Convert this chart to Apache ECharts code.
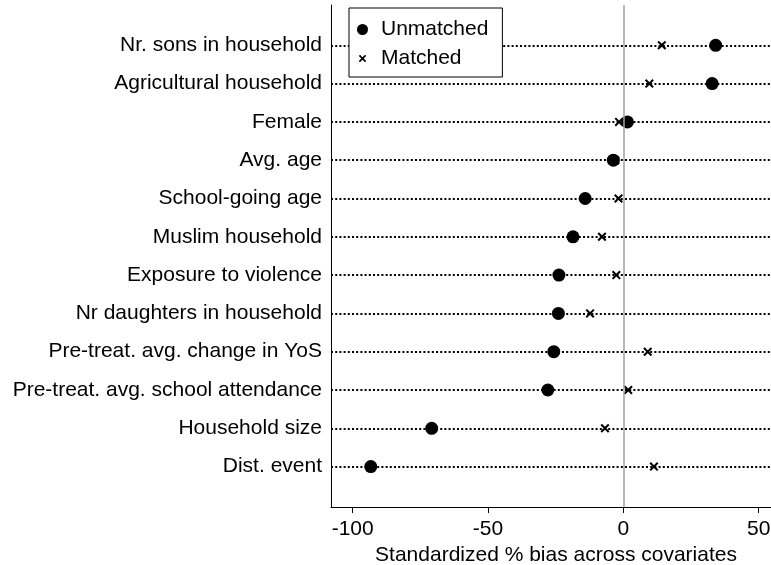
<!DOCTYPE html>
<html>
<head>
<meta charset="utf-8">
<script src="https://cdn.jsdelivr.net/npm/echarts@6/dist/echarts.min.js"></script>
<style>
  html, body { margin: 0; padding: 0; background: #fff; }
  #chart { width: 771px; height: 565px; }
</style>
</head>
<body>
<div id="chart"></div>
<script>
// Covariates, top to bottom
const covariates = [
  'Nr. sons in household',
  'Agricultural household',
  'Female',
  'Avg. age',
  'School-going age',
  'Muslim household',
  'Exposure to violence',
  'Nr daughters in household',
  'Pre-treat. avg. change in YoS',
  'Pre-treat. avg. school attendance',
  'Household size',
  'Dist. event'
];
// Standardized % bias before and after matching
const unmatched = [34.1, 32.8, 1.5, -3.7, -14.1, -18.6, -23.8, -24.0, -25.7, -27.9, -70.8, -93.3];
const matched   = [14.2, 9.6, -1.6, -3.0, -1.8, -7.9, -2.6, -12.3, 9.0, 1.8, -6.8, 11.3];
const xTicks = [-100, -50, 0, 50];
const xTitle = 'Standardized % bias across covariates';

const rows = covariates.map((_, i) => i + 1);
const FONT = '"Liberation Sans", Arial, sans-serif';

// filled "x" glyph (two crossing bars)
const crossBars = 'M0,1.6L1.6,0L10,8.4L8.4,10Z M8.4,0L10,1.6L1.6,10L0,8.4Z';
const crossSymbol = 'path://' + crossBars;
const crossLegendIcon = 'path://M-2.5,-2.5 M12.5,12.5 ' + crossBars;

const chart = echarts.init(document.getElementById('chart'), null, { renderer: 'canvas' });

chart.setOption({
  animation: false,
  backgroundColor: '#fff',
  textStyle: { fontFamily: FONT },
  grid: { left: 331, right: 0, top: 5, bottom: 58, outerBoundsMode: 'none', containLabel: false },
  legend: {
    orient: 'vertical',
    left: 349,
    top: 8,
    padding: [11, 14, 8, 8],
    itemGap: 8,
    itemWidth: 11,
    itemHeight: 11,
    borderColor: '#000',
    borderWidth: 1,
    backgroundColor: '#fff',
    z: 10,
    textStyle: { fontFamily: FONT, fontSize: 21, color: '#000', lineHeight: 21, padding: [0, 0, 0, 8] },
    data: [
      { name: 'Unmatched', icon: 'circle' },
      { name: 'Matched', icon: crossLegendIcon }
    ]
  },
  xAxis: {
    type: 'value',
    min: -108,
    max: 54.54,
    splitLine: { show: false },
    axisLine: { show: true, onZero: false, lineStyle: { color: '#000', width: 1 } },
    axisTick: { show: true, length: 6, customValues: xTicks, lineStyle: { color: '#000', width: 1 } },
    axisLabel: { customValues: xTicks, fontSize: 21, color: '#000', fontFamily: FONT, margin: 12 },
    name: xTitle,
    nameLocation: 'middle',
    nameGap: 31,
    nameTextStyle: { fontSize: 21, color: '#000', fontFamily: FONT, padding: [0, 0, 0, 10] }
  },
  yAxis: {
    type: 'value',
    inverse: true,
    min: -0.052,
    max: 13.055,
    splitLine: { show: false },
    axisLine: { show: true, onZero: false, lineStyle: { color: '#000', width: 1 } },
    axisTick: { show: false },
    axisLabel: {
      customValues: rows,
      formatter: v => covariates[Math.round(v) - 1] || '',
      fontSize: 21,
      color: '#000',
      fontFamily: FONT,
      margin: 9
    }
  },
  series: [
    {
      // dotted row guides and the zero reference line
      name: 'guides',
      type: 'scatter',
      data: [],
      z: 1,
      silent: true,
      markLine: {
        silent: true,
        symbol: ['none', 'none'],
        label: { show: false },
        emphasis: { disabled: true },
        data: [
          ...rows.map(r => ({ yAxis: r, lineStyle: { color: '#000', width: 2, type: [2, 2.2], opacity: 1 } })),
          { xAxis: 0, lineStyle: { color: '#a0a0a0', width: 1.5, type: 'solid', opacity: 1 } }
        ]
      }
    },
    {
      name: 'Matched',
      type: 'scatter',
      symbol: crossSymbol,
      symbolSize: 9,
      z: 3,
      itemStyle: { color: '#000', opacity: 1 },
      data: matched.map((v, i) => [v, rows[i]])
    },
    {
      name: 'Unmatched',
      type: 'scatter',
      symbol: 'circle',
      symbolSize: 13,
      z: 4,
      itemStyle: { color: '#000', opacity: 1 },
      data: unmatched.map((v, i) => [v, rows[i]])
    }
  ]
});
</script>
</body>
</html>
